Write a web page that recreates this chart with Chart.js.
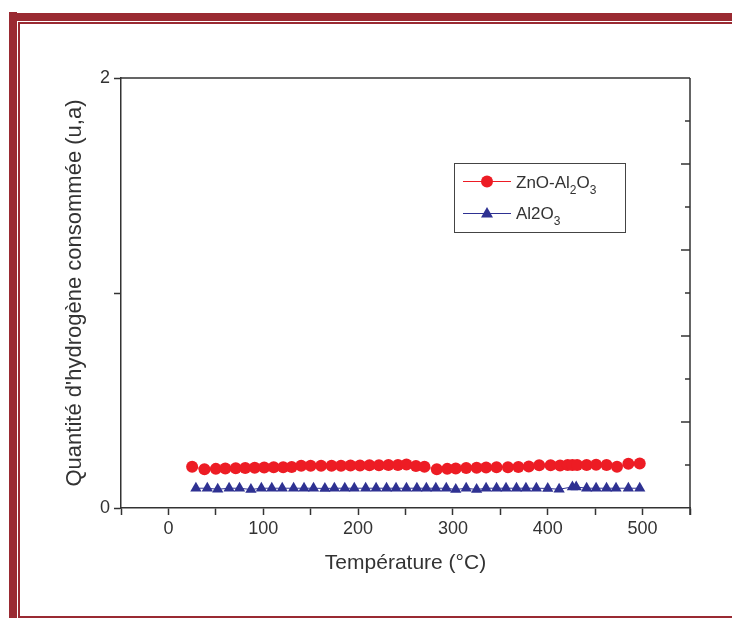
<!DOCTYPE html>
<html>
<head>
<meta charset="utf-8">
<script src="https://cdn.jsdelivr.net/npm/chart.js@4.4.0/dist/chart.umd.min.js"></script>
<style>
    html, body { margin: 0; padding: 0; background: #fff; }
    #wrap { position: relative; width: 732px; height: 618px; }
</style>
</head>
<body>
<div id="wrap"><canvas id="tprChart" width="732" height="618"></canvas></div>
<script>
// ZnO-Al2O3 (red circles)
const tempZnO = [25, 38, 50, 60, 71, 81, 91, 101, 111, 121, 130, 140, 150, 161, 172, 182,
    192, 202, 212, 222, 232, 242, 251, 261, 270, 283, 294, 303, 314, 325, 335, 346, 358,
    369, 380, 391, 403, 413, 421, 426, 431, 441, 451, 462, 473, 485, 497];
const valZnO = [0.192, 0.180, 0.182, 0.184, 0.185, 0.186, 0.187, 0.188, 0.189, 0.190, 0.191, 0.196, 0.197, 0.197, 0.197, 0.197,
    0.198, 0.198, 0.199, 0.199, 0.200, 0.200, 0.202, 0.195, 0.192, 0.180, 0.182, 0.184, 0.186, 0.187, 0.188, 0.189, 0.190,
    0.191, 0.193, 0.199, 0.199, 0.198, 0.200, 0.200, 0.200, 0.200, 0.201, 0.200, 0.192, 0.206, 0.207];

// Al2O3 (blue triangles)
const tempAl = [29, 41, 52, 64, 75, 87, 98, 109, 120, 132, 143, 153, 165, 175, 186, 196,
    208, 219, 230, 240, 251, 262, 272, 282, 293, 303, 314, 325, 335, 346, 356, 367,
    377, 388, 400, 412, 426, 430, 441, 451, 462, 472, 485, 497];
const valAl = [0.092, 0.092, 0.087, 0.092, 0.092, 0.086, 0.092, 0.092, 0.092, 0.092, 0.092, 0.092, 0.091, 0.092, 0.092, 0.092,
    0.092, 0.092, 0.092, 0.092, 0.092, 0.092, 0.092, 0.092, 0.092, 0.086, 0.092, 0.086, 0.092, 0.092, 0.092, 0.092,
    0.092, 0.092, 0.091, 0.087, 0.098, 0.098, 0.092, 0.092, 0.092, 0.092, 0.092, 0.092];

const xTickLabels = [0, 100, 200, 300, 400, 500];
const yTickLabels = [0, 2];
const yRightTicks = [0.2, 0.4, 0.6, 0.8, 1.0, 1.2, 1.4, 1.6, 1.8];

const RED = '#ed1c24';
const BLUE = '#2e3192';
const AXIS = '#333333';
const FRAME = '#9a2a32';
const FONT = "'Liberation Sans', Arial, sans-serif";

const toPoints = (xs, ys) => xs.map((x, i) => ({ x: x, y: ys[i] }));

// decorative page frame, box axes and the legend with subscripts
const decorPlugin = {
    id: 'decor',
    afterDraw(chart) {
        const ctx = chart.ctx;
        const area = chart.chartArea;
        const y = chart.scales.y;
        ctx.save();

        // frame
        ctx.fillStyle = FRAME;
        ctx.fillRect(9, 12, 8, 606);
        ctx.fillRect(17, 13, 715, 8);
        ctx.fillRect(18, 22, 2, 596);
        ctx.fillRect(18, 22, 714, 2);
        ctx.fillRect(18, 616, 714, 2);

        // top and right axis lines
        ctx.strokeStyle = AXIS;
        ctx.lineWidth = 1.5;
        ctx.beginPath();
        ctx.moveTo(area.left, area.top);
        ctx.lineTo(area.right, area.top);
        ctx.moveTo(area.right, area.top);
        ctx.lineTo(area.right, area.bottom + 7);
        ctx.stroke();

        // right inward ticks
        ctx.beginPath();
        yRightTicks.forEach((v, i) => {
            const py = y.getPixelForValue(v);
            const len = (i % 2 === 1) ? 9 : 5;
            ctx.moveTo(area.right, py);
            ctx.lineTo(area.right - len, py);
        });
        ctx.stroke();

        // legend
        ctx.strokeStyle = '#444';
        ctx.lineWidth = 1;
        ctx.strokeRect(454.5, 163.5, 171, 69);

        ctx.strokeStyle = RED;
        ctx.beginPath();
        ctx.moveTo(463, 181.5);
        ctx.lineTo(511, 181.5);
        ctx.stroke();
        ctx.fillStyle = RED;
        ctx.beginPath();
        ctx.arc(487, 181.5, 6, 0, Math.PI * 2);
        ctx.fill();

        ctx.strokeStyle = BLUE;
        ctx.beginPath();
        ctx.moveTo(463, 213.5);
        ctx.lineTo(511, 213.5);
        ctx.stroke();
        ctx.fillStyle = BLUE;
        ctx.beginPath();
        ctx.moveTo(487, 207);
        ctx.lineTo(493, 217.5);
        ctx.lineTo(481, 217.5);
        ctx.closePath();
        ctx.fill();

        const drawRich = (parts, x, baseY) => {
            ctx.fillStyle = AXIS;
            ctx.textBaseline = 'alphabetic';
            ctx.textAlign = 'left';
            parts.forEach(p => {
                ctx.font = (p.sub ? '12px ' : '17px ') + FONT;
                ctx.fillText(p.t, x, baseY + (p.sub ? 6 : 0));
                x += ctx.measureText(p.t).width;
            });
        };
        drawRich([{ t: 'ZnO-Al' }, { t: '2', sub: true }, { t: 'O' }, { t: '3', sub: true }], 516, 188);
        drawRich([{ t: 'Al2O' }, { t: '3', sub: true }], 516, 219);

        ctx.restore();
    }
};

document.addEventListener('DOMContentLoaded', function() {
    const ctx = document.getElementById('tprChart').getContext('2d');
    const chart = new Chart(ctx, {
        type: 'scatter',
        data: {
            datasets: [{
                label: 'ZnO-Al2O3',
                data: toPoints(tempZnO, valZnO),
                showLine: true,
                borderColor: RED,
                backgroundColor: RED,
                borderWidth: 1,
                pointStyle: 'circle',
                pointRadius: 6,
                pointBorderWidth: 0,
                pointBackgroundColor: RED
            }, {
                label: 'Al2O3',
                data: toPoints(tempAl, valAl),
                showLine: true,
                borderColor: BLUE,
                backgroundColor: BLUE,
                borderWidth: 1,
                pointStyle: 'triangle',
                pointRadius: 6.5,
                pointBorderWidth: 0,
                pointBackgroundColor: BLUE
            }]
        },
        options: {
            responsive: false,
            animation: false,
            layout: {
                padding: { top: 78, right: 42, left: 0, bottom: 0 }
            },
            plugins: {
                legend: { display: false },
                tooltip: { enabled: false }
            },
            scales: {
                x: {
                    type: 'linear',
                    min: -50,
                    max: 550,
                    afterFit: s => { s.height = 110; },
                    border: { color: AXIS, width: 1.5 },
                    grid: {
                        drawOnChartArea: false,
                        tickLength: 7,
                        tickColor: AXIS,
                        tickWidth: 1.5
                    },
                    ticks: {
                        stepSize: 50,
                        autoSkip: false,
                        maxRotation: 0,
                        padding: 3,
                        color: AXIS,
                        font: { family: FONT, size: 18 },
                        callback: v => xTickLabels.includes(v) ? String(v) : ''
                    },
                    title: {
                        display: true,
                        text: 'Température (°C)',
                        color: AXIS,
                        font: { family: FONT, size: 21 },
                        padding: { top: 0, bottom: 42 }
                    }
                },
                y: {
                    type: 'linear',
                    min: 0,
                    max: 2,
                    afterFit: s => { s.width = 121; },
                    border: { color: AXIS, width: 1.5 },
                    grid: {
                        drawOnChartArea: false,
                        tickLength: 7,
                        tickColor: AXIS,
                        tickWidth: 1.5
                    },
                    ticks: {
                        stepSize: 1,
                        autoSkip: false,
                        padding: 4,
                        color: AXIS,
                        font: { family: FONT, size: 18 },
                        callback: v => yTickLabels.includes(v) ? String(v) : ''
                    },
                    title: {
                        display: true,
                        text: "Quantité d'hydrogène consommée (u,a)",
                        color: AXIS,
                        font: { family: FONT, size: 22 },
                        padding: { top: 62, bottom: 0 }
                    }
                }
            }
        },
        plugins: [decorPlugin]
    });
});
</script>
</body>
</html>
